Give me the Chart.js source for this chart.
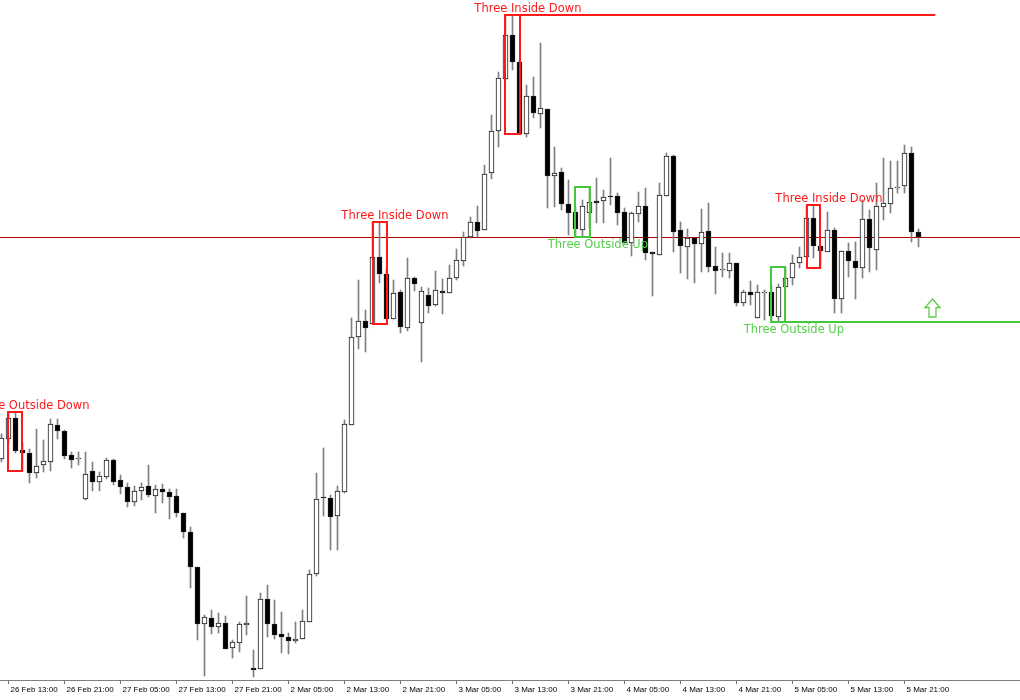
<!DOCTYPE html>
<html>
<head>
<meta charset="utf-8">
<script src="https://cdn.jsdelivr.net/npm/chart.js@4.4.1/dist/chart.umd.min.js"></script>
<style>
  html, body { margin: 0; padding: 0; background: #fff; }
  #chart { display: block; }
</style>
</head>
<body>
<canvas id="chart" width="1020" height="700"></canvas>
<script>
// H1 candles, first bar is 26 Feb 12:00 (index -1); prices in points
const firstIndex = -1

const open = [
  241,
  261, 282, 250, 247, 227, 235, 238, 275, 269, 245,
  241, 201, 229, 218, 223, 240, 220, 213, 198, 209,
  214, 204, 211, 208, 204, 187, 168, 133, 76, 82,
  73, 77, 52, 57, 75, 32, 31, 101, 76, 66,
  63, 59, 61, 78, 126, 203, 202, 184, 208, 275,
  363, 379, 376, 443, 426, 381, 408, 372, 422, 377,
  405, 395, 409, 407, 422, 439, 463, 478, 470, 527,
  569, 621, 665, 638, 566, 604, 586, 591, 524, 528,
  496, 488, 470, 487, 499, 499, 504, 504, 488, 457,
  486, 494, 448, 445, 504, 544, 470, 453, 462, 456,
  469, 434, 430, 429, 437, 397, 408, 382, 407, 408,
  383, 413, 422, 437, 443, 482, 454, 448, 470, 401,
  449, 439, 432, 481, 450, 493, 496, 512, 514, 547,
  468,
]
const high = [
  266,
  288, 287, 257, 251, 271, 260, 281, 281, 270, 248,
  248, 248, 238, 228, 242, 241, 225, 217, 214, 217,
  235, 215, 216, 211, 211, 187, 173, 133, 85, 90,
  87, 84, 60, 78, 104, 50, 107, 115, 100, 88,
  67, 78, 90, 130, 227, 252, 205, 214, 280, 382,
  420, 390, 478, 478, 432, 420, 410, 442, 423, 413,
  412, 429, 421, 435, 451, 468, 483, 494, 535, 585,
  628, 685, 685, 640, 615, 623, 657, 591, 553, 532,
  520, 493, 500, 513, 522, 510, 542, 507, 492, 488,
  508, 512, 448, 517, 547, 545, 478, 471, 462, 491,
  497, 453, 447, 447, 437, 410, 419, 415, 410, 415,
  416, 433, 445, 453, 495, 495, 454, 488, 472, 449,
  457, 458, 500, 490, 517, 542, 539, 539, 555, 553,
  471,
]
const low = [
  238,
  257, 247, 229, 217, 222, 228, 229, 261, 241, 232,
  235, 200, 209, 209, 221, 215, 206, 193, 194, 200,
  203, 187, 197, 181, 183, 162, 112, 60, 24, 66,
  67, 51, 42, 48, 65, 23, 31, 63, 61, 47,
  46, 57, 61, 78, 124, 184, 150, 150, 207, 275,
  351, 348, 376, 417, 381, 381, 367, 369, 409, 338,
  387, 394, 386, 407, 420, 434, 462, 463, 470, 521,
  553, 620, 630, 566, 563, 582, 572, 492, 493, 490,
  465, 463, 463, 472, 477, 477, 495, 475, 457, 444,
  478, 440, 404, 445, 504, 448, 427, 421, 417, 428,
  428, 406, 423, 422, 394, 394, 395, 382, 380, 378,
  378, 413, 415, 432, 443, 442, 432, 448, 387, 387,
  423, 401, 422, 428, 430, 480, 487, 507, 507, 458,
  453,
]
const close = [
  262,
  282, 249, 247, 227, 234, 239, 276, 269, 244, 240,
  242, 226, 218, 224, 240, 218, 213, 198, 209, 213,
  205, 211, 208, 203, 187, 168, 133, 76, 83, 73,
  77, 51, 58, 76, 77, 30, 101, 76, 65, 63,
  59, 61, 79, 126, 201, 202, 183, 209, 276, 363,
  379, 372, 443, 426, 381, 407, 373, 422, 416, 409,
  394, 410, 407, 422, 440, 463, 478, 469, 526, 569,
  622, 665, 638, 566, 604, 587, 592, 524, 527, 496,
  487, 471, 494, 498, 497, 503, 503, 487, 457, 487,
  494, 447, 446, 505, 544, 468, 454, 462, 456, 468,
  433, 429, 431, 437, 397, 408, 405, 408, 408, 384,
  413, 422, 437, 443, 482, 454, 449, 470, 401, 449,
  439, 432, 481, 452, 494, 497, 512, 513, 547, 468,
  463,
]

// time axis: one label every 8 bars
const tickIndex = [0, 8, 16, 24, 32, 40, 48, 56, 64, 72, 80, 88, 96, 104, 112, 120, 128]
const tickLabels = [
  "26 Feb 13:00", "26 Feb 21:00", "27 Feb 05:00", "27 Feb 13:00", "27 Feb 21:00",
  "2 Mar 05:00", "2 Mar 13:00", "2 Mar 21:00", "3 Mar 05:00", "3 Mar 13:00",
  "3 Mar 21:00", "4 Mar 05:00", "4 Mar 13:00", "4 Mar 21:00", "5 Mar 05:00",
  "5 Mar 13:00", "5 Mar 21:00",
]

// candle patterns (first bar of each three-bar pattern)
const patternStart = [0, 52, 71, 81, 109, 114]
const patternName = ["Three Outside Down", "Three Inside Down", "Three Inside Down", "Three Outside Up", "Three Outside Up", "Three Inside Down"]
const patternUp = [false, false, false, true, true, false]

// level lines drawn from a pattern's extreme, and where they stop
const levelPattern = [71, 109]
const levelEnd = [132.4, null]
const arrowIndex = 132

const RED = "#ff1a1a"
const GREEN = "#44c83c"

const idx = open.map((_, i) => i + firstIndex)
const isUp = open.map((o, i) => close[i] >= o)

const patternBox = (start) => {
  const i0 = start - firstIndex
  const hs = high.slice(i0, i0 + 3)
  const ls = low.slice(i0, i0 + 3)
  return { top: Math.max(...hs), bottom: Math.min(...ls) }
}

const overlay = {
  id: "overlay",
  beforeDatasetsDraw(chart) {
    const { ctx, chartArea, scales: { y } } = chart
    // bid line at last close
    const yb = Math.round(y.getPixelForValue(close[close.length - 1])) + 0.5
    ctx.save()
    ctx.strokeStyle = "#b40000"
    ctx.lineWidth = 1
    ctx.beginPath()
    ctx.moveTo(chartArea.left, yb)
    ctx.lineTo(chartArea.right, yb)
    ctx.stroke()
    ctx.restore()
  },
  afterDatasetsDraw(chart) {
    const { ctx, chartArea, scales: { x, y } } = chart
    ctx.save()
    ctx.lineWidth = 2
    patternStart.forEach((start, p) => {
      const box = patternBox(start)
      const color = patternUp[p] ? GREEN : RED
      const left = Math.round(x.getPixelForValue(start))
      const right = Math.round(x.getPixelForValue(start + 2))
      const top = Math.round(y.getPixelForValue(box.top))
      const bottom = Math.round(y.getPixelForValue(box.bottom))
      ctx.strokeStyle = color
      ctx.strokeRect(left, top, right - left, bottom - top)

      const li = levelPattern.indexOf(start)
      if (li >= 0) {
        const ly = patternUp[p] ? bottom : top
        const end = levelEnd[li] == null ? chartArea.right : x.getPixelForValue(levelEnd[li])
        ctx.beginPath()
        ctx.moveTo(left, ly)
        ctx.lineTo(end, ly)
        ctx.stroke()
        if (patternUp[p]) {
          // outlined up arrow above the support level
          const ax = x.getPixelForValue(arrowIndex)
          const ab = ly - 5
          ctx.beginPath()
          ctx.moveTo(ax, ab - 18)
          ctx.lineTo(ax + 7.5, ab - 9.5)
          ctx.lineTo(ax + 3.5, ab - 9.5)
          ctx.lineTo(ax + 3.5, ab)
          ctx.lineTo(ax - 3.5, ab)
          ctx.lineTo(ax - 3.5, ab - 9.5)
          ctx.lineTo(ax - 7.5, ab - 9.5)
          ctx.closePath()
          ctx.fillStyle = "#ffffff"
          ctx.fill()
          ctx.lineWidth = 1.3
          ctx.strokeStyle = "#5ccc48"
          ctx.stroke()
          ctx.lineWidth = 2
        }
      }

      ctx.font = '11.5px "DejaVu Sans"'
      ctx.textAlign = "center"
      ctx.textBaseline = "alphabetic"
      ctx.fillStyle = patternUp[p] ? "#55d04c" : RED
      const tx = x.getPixelForValue(start + 3.2)
      const ty = patternUp[p] ? bottom + 11 : top - 3
      ctx.fillText(patternName[p], tx, ty)
    })
    ctx.restore()
  },
}

new Chart(document.getElementById("chart"), {
  type: "bar",
  data: {
    datasets: [
      {
        label: "wick",
        data: idx.map((k, i) => ({ x: k, y: [low[i], high[i]] })),
        backgroundColor: "#808080",
        barThickness: 1,
        borderWidth: 0,
        order: 2,
      },
      {
        label: "body",
        data: idx.map((k, i) => ({ x: k, y: [open[i], close[i]] })),
        backgroundColor: isUp.map((u) => (u ? "#ffffff" : "#000000")),
        borderColor: "#1a1a1a",
        borderWidth: 1,
        borderSkipped: false,
        barThickness: 5,
        minBarLength: 1,
        order: 1,
      },
    ],
  },
  options: {
    responsive: false,
    animation: false,
    devicePixelRatio: 1,
    datasets: { bar: { grouped: false } },
    layout: { padding: 0 },
    plugins: { legend: { display: false }, tooltip: { enabled: false } },
    scales: {
      x: {
        type: "linear",
        min: -8.5 / 7,
        max: (1020 - 8.5) / 7,
        offset: false,
        grid: { display: true, drawOnChartArea: false, drawTicks: true, tickLength: 4, tickColor: "#707070", offset: false },
        border: { display: true, color: "#808080", width: 1 },
        afterBuildTicks: (scale) => {
          scale.ticks = tickIndex.map((v) => ({ value: v }))
        },
        afterFit: (scale) => {
          scale.height = 20
        },
        ticks: {
          autoSkip: false,
          maxRotation: 0,
          align: "start",
          labelOffset: 2,
          padding: 1,
          color: "#000000",
          font: { family: '"Liberation Sans"', size: 8 },
          callback: (value, index) => tickLabels[index],
        },
      },
      y: {
        display: false,
        min: 20,
        max: 700,
      },
    },
  },
  plugins: [overlay],
})
</script>
</body>
</html>
